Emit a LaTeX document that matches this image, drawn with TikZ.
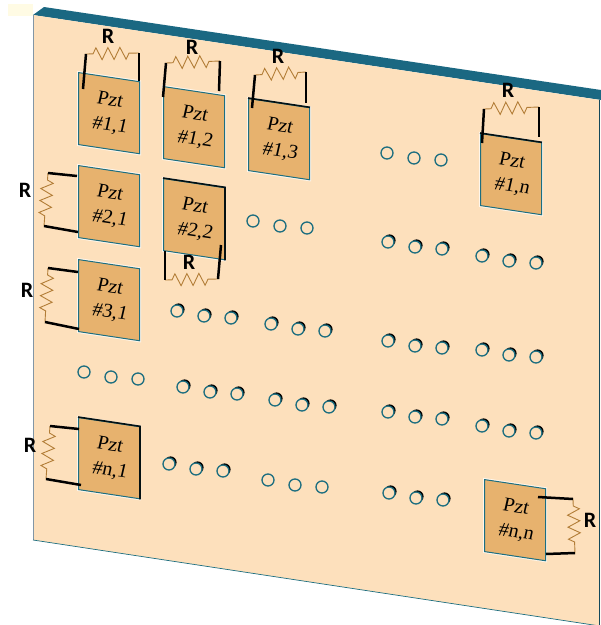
\documentclass[tikz,border=0pt]{standalone}
\usepackage{fontspec}
\setmainfont{Liberation Serif}
\newfontfamily\labelfont{Carlito}
\newfontfamily\pztfont[FakeSlant=0.22]{Liberation Serif}
\usepackage{xcolor}
\usetikzlibrary{calc, shadows, decorations.pathmorphing}
\definecolor{platefill}{RGB}{253, 224, 188}
\definecolor{pztfill}{RGB}{231, 178, 110}
\definecolor{platetop}{RGB}{27, 104, 130}
\definecolor{edgeteal}{RGB}{28, 110, 128}
\definecolor{edgegray}{RGB}{130, 150, 165}
\definecolor{wirebrown}{RGB}{178, 125, 55}
\definecolor{cornerpale}{RGB}{255, 251, 228}
\begin{document}
\begin{tikzpicture}[
    x=1pt, y=-1pt,
    pzt/.style={rectangle, anchor=north west, draw=edgeteal, fill=pztfill, line width=1pt, minimum width=61pt, minimum height=72pt, inner sep=0pt, yslant=-0.15, align=center, font=\pztfont\fontsize{20}{25}\selectfont, preaction={draw=white!70!platefill, line width=3pt}},
    holeplain/.style={circle, draw=edgeteal, fill=platefill, line width=1.3pt, minimum size=12pt, inner sep=0pt},
    holedark/.style={holeplain, drop shadow={shadow xshift=1.6pt, shadow yshift=1.6pt, opacity=1, fill=black}},
    rlabel/.style={font=\fontsize{22}{22}\selectfont\labelfont\bfseries, inner sep=0pt},
    leadwire/.style={line width=2.5pt, black},
    reswire/.style={wirebrown, line width=0.9pt, decorate, decoration={zigzag, segment length=12pt, amplitude=6pt, pre length=7pt, post length=7pt}},
    darkedge/.style={line width=1.6pt, black!85!edgeteal}
]
\useasboundingbox (0,0) rectangle (601,625);
\fill[cornerpale] (8,4) rectangle (33,16);
\fill[platetop] (33,15) -- (44,7) -- (601,90) -- (601,100) -- cycle;
\fill[platefill] (33,15) -- (600,100) -- (600,626) -- (33,540) -- cycle;
\draw[edgegray, line width=0.9pt] (33,15) -- (33,540);
\draw[edgeteal, line width=0.7pt] (33,540) -- (600,626);
\draw[platetop!70!black, line width=1pt] (599.5,100) -- (599.5,625);
\node[pzt] (p11) at (78,72) {Pzt\\\#1,1};
\node[pzt] (p12) at (163,86) {Pzt\\\#1,2};
\node[pzt] (p13) at (248,98) {Pzt\\\#1,3};
\node[pzt] (p1n) at (480,133) {Pzt\\\#1,n};
\node[pzt] (p21) at (78,165) {Pzt\\\#2,1};
\node[pzt] (p22) at (163,178) {Pzt\\\#2,2};
\node[pzt] (p31) at (78,259) {Pzt\\\#3,1};
\node[pzt] (pn1) at (78,417) {Pzt\\\#n,1};
\node[pzt] (pnn) at (484,479) {Pzt\\\#n,n};
\draw[darkedge] (p22.north west) -- (p22.north east) -- (p22.south east);
\draw[darkedge] (pn1.north west) -- (pn1.north east) -- (pn1.south east);
\draw[darkedge] (p1n.north west) -- (p1n.north east);
\draw[darkedge] (p13.north west) -- (p13.north east);
\foreach \gx/\gy/\st in {387/153/holeplain, 253/221/holeplain, 388/242/holedark, 482/256/holedark,
    177/311/holedark, 271/324/holedark, 388/341/holedark, 482/350/holedark,
    84/372/holeplain, 183/387/holedark, 275/400/holedark, 388/412/holedark, 482/426/holedark,
    169/464/holedark, 268/480/holeplain, 389/493/holedark} {
    \node[\st] (h\gx-a) at (\gx,\gy) {};
    \node[\st] (h\gx-b) at (\gx+27,\gy+5) {};
    \node[\st] (h\gx-c) at (\gx+54,\gy+7) {};
}
\foreach \p/\ax/\ay/\bx/\by/\cx/\cy/\dx/\dy/\lx/\ly in {
    p11/83/89/86/54/139/53/139/81/108/36,
    p12/163/97/166/63/220/61/219/91/192/47,
    p13/252/108/255/75/306/72/306/103/278/56,
    p1n/482/143/484/109/539/107/539/137/508/90,
    p21/77/176/48/173/44/226/78/232/25/190,
    p31/78/272/48/268/45/322/79/329/27/290,
    p22/165/251/165/280/218/279/221/245/189/262,
    pn1/79/429/50/426/46/479/81/485/30/445,
    pnn/538/497/573/499/575/553/546/554/590/520} {
    \coordinate (\p-a) at (\ax,\ay);
    \coordinate (\p-b) at (\bx,\by);
    \coordinate (\p-c) at (\cx,\cy);
    \coordinate (\p-d) at (\dx,\dy);
    \draw[reswire] (\p-b) -- (\p-c);
    \draw[leadwire] (\p-a) -- (\p-b);
    \draw[leadwire] (\p-c) -- (\p-d);
    \node[rlabel] (\p-r) at (\lx,\ly) {R};
}
\end{tikzpicture}
\end{document}
